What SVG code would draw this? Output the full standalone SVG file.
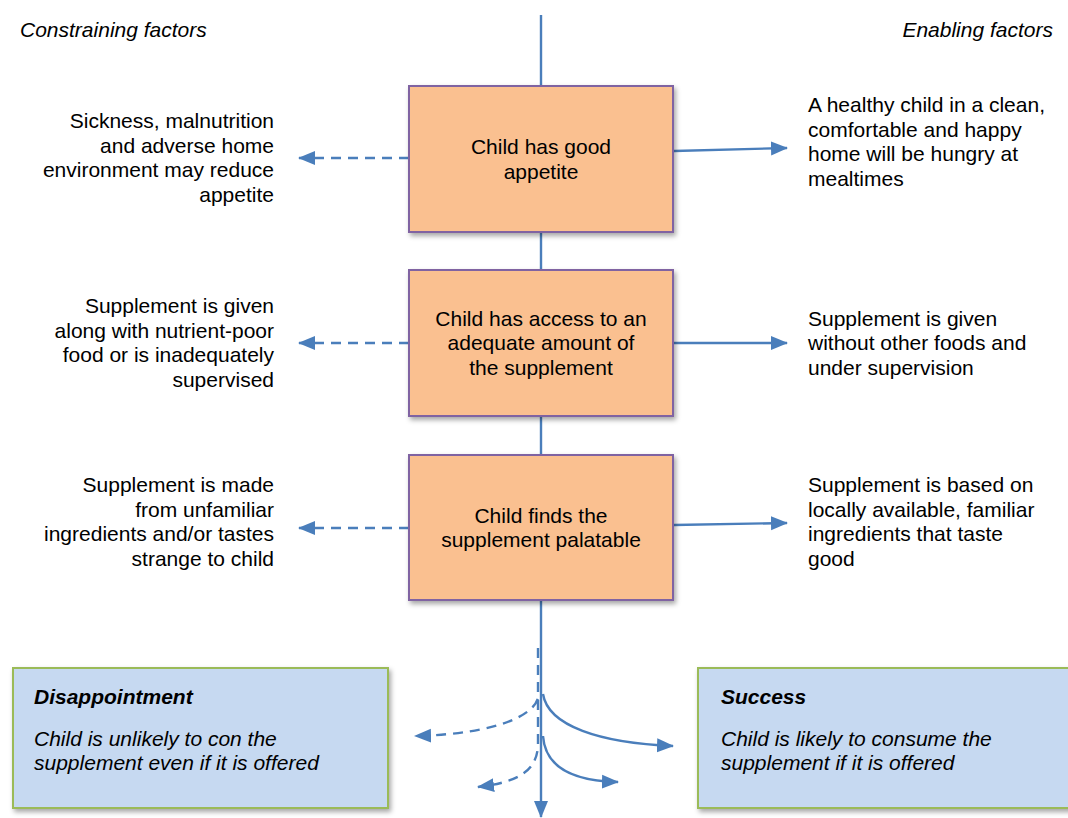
<svg xmlns="http://www.w3.org/2000/svg" width="1068" height="818" viewBox="0 0 1068 818">
<style>
text{font-family:"Liberation Sans",Arial,sans-serif;font-size:21px;fill:#000}
.it{font-style:italic}
.bi{font-style:italic;font-weight:bold}
.r{text-anchor:end}
.m{text-anchor:middle}
.box{fill:#FAC090;stroke:#8064A2;stroke-width:2}
.out{fill:#C6D9F1;stroke:#9BBB59;stroke-width:2}
.ln{fill:none;stroke:#4A7EBB;stroke-width:2.4}
.d{stroke-dasharray:10 7}
</style>
<defs>
<filter id="sh" x="-10%" y="-10%" width="130%" height="130%">
<feDropShadow dx="2" dy="3" stdDeviation="2.5" flood-color="#000" flood-opacity="0.35"/>
</filter>
<marker id="ah" markerUnits="userSpaceOnUse" markerWidth="18" markerHeight="16" refX="16" refY="8" orient="auto">
<path d="M0,1 L17,8 L0,15 Z" fill="#4A7EBB"/>
</marker>
</defs>
<text class="it" x="20" y="37">Constraining factors</text>
<text class="it r" x="1053" y="37">Enabling factors</text>
<g id="connectors">
<path class="ln" d="M541,15 L541,817" marker-end="url(#ah)"/>
<path class="ln d" d="M409,158 L299,158" marker-end="url(#ah)"/>
<path class="ln" d="M674,151 L787,148" marker-end="url(#ah)"/>
<path class="ln d" d="M409,343 L299,343" marker-end="url(#ah)"/>
<path class="ln" d="M674,343 L787,343" marker-end="url(#ah)"/>
<path class="ln d" d="M409,528 L299,528" marker-end="url(#ah)"/>
<path class="ln" d="M674,525 L787,523" marker-end="url(#ah)"/>
<path class="ln d" d="M538,648 L538,698 C534,714 500,734 415,736" marker-end="url(#ah)"/>
<path class="ln" d="M543,694 C548,726 600,743 673,746" marker-end="url(#ah)"/>
<path class="ln d" d="M538,700 L538,745 C537,770 520,782 478,787" marker-end="url(#ah)"/>
<path class="ln" d="M543,736 C545,765 570,781 618,782" marker-end="url(#ah)"/>
</g>
<g id="n1">
<rect class="box" x="409" y="86" width="264" height="146" filter="url(#sh)"/>
<text class="m" x="541" y="154">Child has good</text>
<text class="m" x="541" y="178.5">appetite</text>
</g>
<g id="n2">
<rect class="box" x="409" y="270" width="264" height="146" filter="url(#sh)"/>
<text class="m" x="541" y="325.5">Child has access to an</text>
<text class="m" x="541" y="350">adequate amount of</text>
<text class="m" x="541" y="374.5">the supplement</text>
</g>
<g id="n3">
<rect class="box" x="409" y="455" width="264" height="145" filter="url(#sh)"/>
<text class="m" x="541" y="522.5">Child finds the</text>
<text class="m" x="541" y="547">supplement palatable</text>
</g>
<g id="c1">
<text class="r" x="274" y="128">Sickness, malnutrition</text>
<text class="r" x="274" y="152.5">and adverse home</text>
<text class="r" x="274" y="177">environment may reduce</text>
<text class="r" x="274" y="201.5">appetite</text>
</g>
<g id="e1">
<text x="808" y="112">A healthy child in a clean,</text>
<text x="808" y="136.5">comfortable and happy</text>
<text x="808" y="161">home will be hungry at</text>
<text x="808" y="185.5">mealtimes</text>
</g>
<g id="c2">
<text class="r" x="274" y="313">Supplement is given</text>
<text class="r" x="274" y="337.5">along with nutrient-poor</text>
<text class="r" x="274" y="362">food or is inadequately</text>
<text class="r" x="274" y="386.5">supervised</text>
</g>
<g id="e2">
<text x="808" y="325.5">Supplement is given</text>
<text x="808" y="350">without other foods and</text>
<text x="808" y="374.5">under supervision</text>
</g>
<g id="c3">
<text class="r" x="274" y="492">Supplement is made</text>
<text class="r" x="274" y="516.5">from unfamiliar</text>
<text class="r" x="274" y="541">ingredients and/or tastes</text>
<text class="r" x="274" y="565.5">strange to child</text>
</g>
<g id="e3">
<text x="808" y="492">Supplement is based on</text>
<text x="808" y="516.5">locally available, familiar</text>
<text x="808" y="541">ingredients that taste</text>
<text x="808" y="565.5">good</text>
</g>
<g id="disappointment">
<rect class="out" x="13" y="668" width="375" height="140" filter="url(#sh)"/>
<text class="bi" x="34" y="704">Disappointment</text>
<text class="it" x="34" y="746">Child is unlikely to con the</text>
<text class="it" x="34" y="770">supplement even if it is offered</text>
</g>
<g id="success">
<rect class="out" x="698" y="668" width="380" height="140" filter="url(#sh)"/>
<text class="bi" x="721" y="704">Success</text>
<text class="it" x="721" y="746">Child is likely to consume the</text>
<text class="it" x="721" y="770">supplement if it is offered</text>
</g>
</svg>
